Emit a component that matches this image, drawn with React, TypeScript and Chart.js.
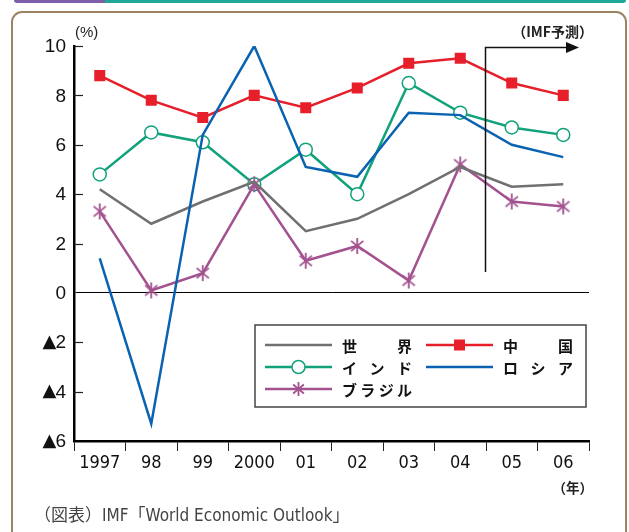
import React, { useEffect, useRef } from "react";
import { Chart, registerables } from "chart.js";
Chart.register(...registerables);

const years = ["1997", "98", "99", "2000", "01", "02", "03", "04", "05", "06"];
const world = [4.2, 2.8, 3.7, 4.5, 2.5, 3.0, 4.0, 5.1, 4.3, 4.4];
const china = [8.8, 7.8, 7.1, 8.0, 7.5, 8.3, 9.3, 9.5, 8.5, 8.0];
const india = [4.8, 6.5, 6.1, 4.4, 5.8, 4.0, 8.5, 7.3, 6.7, 6.4];
const russia = [1.4, -5.3, 6.4, 10.0, 5.1, 4.7, 7.3, 7.2, 6.0, 5.5];
const brazil = [3.3, 0.1, 0.8, 4.4, 1.3, 1.9, 0.5, 5.2, 3.7, 3.5];
const yTickValues = [10, 8, 6, 4, 2, 0, -2, -4, -6];
const yInnerTicks = [10, 8, 6, 4, 2, -2, -4];

const C_WORLD = "#707070";
const C_CHINA = "#e61f2b";
const C_INDIA = "#12a27b";
const C_RUSSIA = "#0a63b2";
const C_BRAZIL = "#a3528f";

const NARROW = '"Liberation Sans Narrow", "Arial Narrow", "DejaVu Sans Condensed", sans-serif';
const SANS = '"Liberation Sans", Arial, sans-serif';
const JP = '"Noto Sans CJK JP", sans-serif';

function makeAsterisk(color: string, r: number, lw: number) {
  const c = document.createElement("canvas");
  const s = Math.ceil(r * 2 + lw * 2);
  c.width = s;
  c.height = s;
  const ctx = c.getContext("2d")!;
  ctx.strokeStyle = color;
  ctx.lineWidth = lw;
  const cx = s / 2, cy = s / 2;
  [90, 40, 140].forEach((deg) => {
    const a = (deg * Math.PI) / 180;
    ctx.beginPath();
    ctx.moveTo(cx - Math.cos(a) * r, cy - Math.sin(a) * r);
    ctx.lineTo(cx + Math.cos(a) * r, cy + Math.sin(a) * r);
    ctx.stroke();
  });
  return c;
}

function drawSpaced(ctx: CanvasRenderingContext2D, text: string, x0: number, x1: number, y: number) {
  const chars = Array.from(text);
  const widths = chars.map((ch) => ctx.measureText(ch).width);
  const total = widths.reduce((a, b) => a + b, 0);
  const gap = chars.length > 1 ? (x1 - x0 - total) / (chars.length - 1) : 0;
  let x = x0;
  ctx.textAlign = "left";
  chars.forEach((ch, i) => {
    ctx.fillText(ch, x, y);
    x += widths[i] + gap;
  });
}

const overlayPlugin = {
  id: "overlay",
  afterDraw(chart: any) {
    const ctx: CanvasRenderingContext2D = chart.ctx;
    const ys = chart.scales.y;
    const xs = chart.scales.x;
    const left = chart.chartArea.left;
    ctx.save();
    // y labels (number + ▲ for negatives)
    ctx.fillStyle = "#111";
    ctx.textBaseline = "middle";
    yTickValues.forEach((v) => {
      const py = ys.getPixelForValue(v);
      ctx.font = `19px ${SANS}`;
      ctx.textAlign = "right";
      const num = String(Math.abs(v));
      ctx.fillText(num, 66, py + 1);
      if (v < 0) {
        const w = ctx.measureText(num).width;
        ctx.font = `18px "DejaVu Sans", sans-serif`;
        ctx.fillText("▲", 66 - w + 1, py);
      }
    });
    // inner y ticks
    ctx.strokeStyle = "#222";
    ctx.lineWidth = 1.2;
    yInnerTicks.forEach((v) => {
      const py = Math.round(ys.getPixelForValue(v)) + 0.5;
      ctx.beginPath();
      ctx.moveTo(left, py);
      ctx.lineTo(left + 9, py);
      ctx.stroke();
    });
    // IMF forecast arrow
    const ax = Math.round((xs.getPixelForValue(7) + xs.getPixelForValue(8)) / 2) - 0.5;
    const aTop = Math.round(ys.getPixelForValue(10)) + 1.5;
    const aBot = ys.getPixelForValue(0.85);
    ctx.strokeStyle = "#111";
    ctx.lineWidth = 1.5;
    ctx.beginPath();
    ctx.moveTo(ax, aBot);
    ctx.lineTo(ax, aTop);
    ctx.lineTo(568, aTop);
    ctx.stroke();
    ctx.fillStyle = "#111";
    ctx.beginPath();
    ctx.moveTo(579, aTop);
    ctx.lineTo(566, aTop - 5.5);
    ctx.lineTo(566, aTop + 5.5);
    ctx.closePath();
    ctx.fill();
    // texts
    ctx.fillStyle = "#222";
    ctx.textBaseline = "middle";
    ctx.font = `15px ${SANS}`;
    ctx.textAlign = "left";
    ctx.fillText("(%)", 75, 33);
    ctx.font = `bold 14px ${JP}`;
    ctx.textAlign = "right";
    ctx.fillText("（IMF予測）", 593, 32);
    ctx.font = `bold 13.5px ${JP}`;
    ctx.fillText("（年）", 593, 488);
    ctx.fillStyle = "#444";
    ctx.font = `17px ${NARROW}, ${JP}`;
    ctx.textAlign = "left";
    ctx.fillText("（図表）IMF「World Economic Outlook」", 34, 517);

    // legend
    const bx = 255, by = 325, bw = 331, bh = 82;
    ctx.fillStyle = "#fff";
    ctx.fillRect(bx, by, bw, bh);
    ctx.strokeStyle = "#444";
    ctx.lineWidth = 1.5;
    ctx.strokeRect(bx, by, bw, bh);
    const rows = [345, 367, 389];
    const col1 = [265, 332, 342, 412];
    const col2 = [426, 493, 503, 573];
    const entries = [
      { label: "世界", color: C_WORLD, marker: "none", col: col1, row: 0 },
      { label: "中国", color: C_CHINA, marker: "rect", col: col2, row: 0 },
      { label: "インド", color: C_INDIA, marker: "circle", col: col1, row: 1 },
      { label: "ロシア", color: C_RUSSIA, marker: "none", col: col2, row: 1 },
      { label: "ブラジル", color: C_BRAZIL, marker: "star", col: col1, row: 2 },
    ];
    ctx.font = `bold 15px ${JP}`;
    entries.forEach((e) => {
      const y = rows[e.row];
      const [l0, l1, t0, t1] = e.col;
      ctx.strokeStyle = e.color;
      ctx.lineWidth = 2.5;
      ctx.beginPath();
      ctx.moveTo(l0, y);
      ctx.lineTo(l1, y);
      ctx.stroke();
      const mx = (l0 + l1) / 2;
      if (e.marker === "rect") {
        ctx.fillStyle = e.color;
        ctx.fillRect(mx - 5.5, y - 5.5, 11, 11);
      } else if (e.marker === "circle") {
        ctx.fillStyle = "#fff";
        ctx.lineWidth = 1.5;
        ctx.beginPath();
        ctx.arc(mx, y, 6.5, 0, Math.PI * 2);
        ctx.fill();
        ctx.stroke();
      } else if (e.marker === "star") {
        ctx.lineWidth = 1.8;
        [90, 40, 140].forEach((deg) => {
          const a = (deg * Math.PI) / 180;
          ctx.beginPath();
          ctx.moveTo(mx - Math.cos(a) * 7, y - Math.sin(a) * 7);
          ctx.lineTo(mx + Math.cos(a) * 7, y + Math.sin(a) * 7);
          ctx.stroke();
        });
      }
      ctx.fillStyle = "#111";
      ctx.textBaseline = "middle";
      drawSpaced(ctx, e.label, t0, t1, y + 1);
    });
    ctx.restore();
  },
};

export default function App() {
  const ref = useRef<HTMLCanvasElement>(null);
  useEffect(() => {
    const star = makeAsterisk(C_BRAZIL, 8, 1.8);
    const chart = new Chart(ref.current!, {
      type: "line",
      data: {
        labels: years,
        datasets: [
          { label: "ロシア", data: russia, borderColor: C_RUSSIA, borderWidth: 2.5, pointRadius: 0, tension: 0 },
          { label: "世界", data: world, borderColor: C_WORLD, borderWidth: 2.5, pointRadius: 0, tension: 0 },
          {
            label: "ブラジル", data: brazil, borderColor: C_BRAZIL, borderWidth: 2.5, tension: 0,
            pointStyle: star as any, pointRadius: 8,
          },
          {
            label: "インド", data: india, borderColor: C_INDIA, borderWidth: 2.5, tension: 0,
            pointStyle: "circle", pointRadius: 6.5, pointBackgroundColor: "#fff", pointBorderColor: C_INDIA, pointBorderWidth: 1.5,
          },
          {
            label: "中国", data: china, borderColor: C_CHINA, borderWidth: 2.5, tension: 0,
            pointStyle: "rect", pointRadius: 7.8, pointBackgroundColor: C_CHINA, pointBorderColor: C_CHINA, pointBorderWidth: 0,
          },
        ],
      },
      options: {
        animation: false,
        responsive: false,
        devicePixelRatio: 1,
        layout: { padding: { left: 0, right: 40, top: 46, bottom: 61 } },
        plugins: { legend: { display: false }, tooltip: { enabled: false } },
        scales: {
          x: {
            type: "category",
            offset: true,
            grid: { display: true, drawOnChartArea: false, drawTicks: true, tickLength: 10, color: "#222", lineWidth: 1, offset: true },
            border: { color: "#000", width: 2.5 },
            ticks: { color: "#111", font: { family: NARROW, size: 18 }, padding: 2, maxRotation: 0, autoSkip: false },
            afterFit: (s: any) => { s.height = 30; },
          },
          y: {
            min: -6,
            max: 10,
            border: { color: "#000", width: 2.5 },
            grid: {
              drawTicks: false,
              color: (c: any) => (c.tick && c.tick.value === 0 ? "#000" : "rgba(0,0,0,0)"),
              lineWidth: 1,
            },
            ticks: { stepSize: 2, display: false },
            afterFit: (s: any) => { s.width = 74; },
          },
        },
      },
      plugins: [overlayPlugin],
    });
    return () => chart.destroy();
  }, []);

  return (
    <div style={{ position: "fixed", left: 0, top: 0, width: 629, height: 532, background: "#fff", overflow: "hidden" }}>
      <div style={{ position: "absolute", left: 14, top: 0, width: 91, height: 3, background: "#7c5fa8", borderBottomLeftRadius: 3 }} />
      <div style={{ position: "absolute", left: 105, top: 0, width: 521, height: 3, background: "#1ea898", borderBottomRightRadius: 3 }} />
      <div style={{ position: "absolute", left: 11, top: 11, width: 612, height: 560, border: "2px solid #9c8462", borderRadius: 11 }} />
      <canvas ref={ref} width={629} height={532} style={{ position: "absolute", left: 0, top: 0, width: 629, height: 532 }} />
    </div>
  );
}
